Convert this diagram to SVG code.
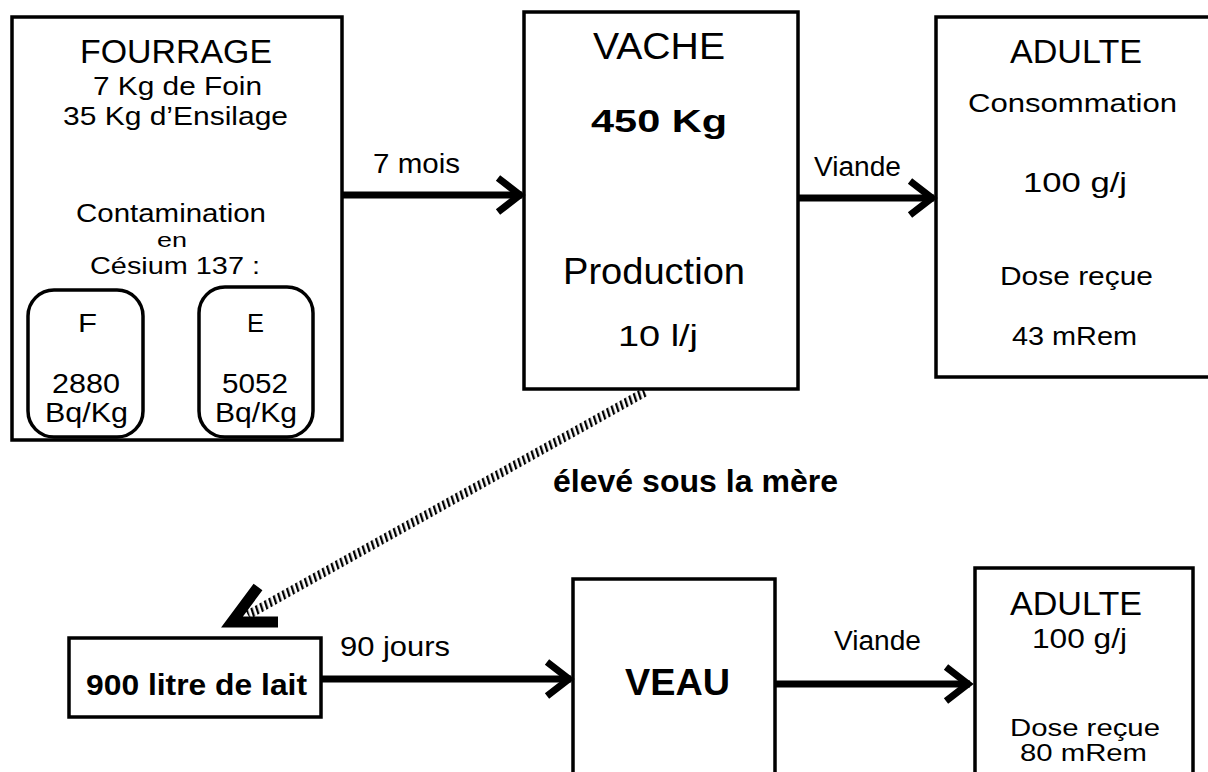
<svg xmlns="http://www.w3.org/2000/svg" width="1208" height="772" viewBox="0 0 1208 772">
<style>
.box{fill:none;stroke:#000;stroke-width:3.5}
.t{font-family:"Liberation Sans",Arial,sans-serif;fill:#000}
.b{font-weight:bold}
.shaft{stroke:#000;stroke-width:7;fill:none}
</style>
<defs>
<marker id="chev" markerUnits="userSpaceOnUse" markerWidth="44" markerHeight="48" viewBox="-34 -24 44 48" refX="0" refY="0" orient="auto">
<path d="M-24,-17 L-2,0 L-24,17" fill="none" stroke="#000" stroke-width="7"/>
</marker>
<pattern id="hatch" patternUnits="userSpaceOnUse" width="5" height="20" patternTransform="rotate(-18)">
<rect x="0" y="0" width="2.3" height="20" fill="#000"/>
</pattern>
</defs>
<rect width="1208" height="772" fill="#fff"/>

<g id="fourrage">
<rect class="box" x="12" y="17" width="330" height="423"/>
<text class="t" x="80" y="63" font-size="34" textLength="192" lengthAdjust="spacingAndGlyphs">FOURRAGE</text>
<text class="t" x="93" y="95" font-size="25" textLength="169" lengthAdjust="spacingAndGlyphs">7 Kg de Foin</text>
<text class="t" x="63" y="125" font-size="25" textLength="225" lengthAdjust="spacingAndGlyphs">35 Kg d’Ensilage</text>
<text class="t" x="76" y="222" font-size="25" textLength="190" lengthAdjust="spacingAndGlyphs">Contamination</text>
<text class="t" x="157" y="247" font-size="20" textLength="30" lengthAdjust="spacingAndGlyphs">en</text>
<text class="t" x="90" y="274" font-size="24" textLength="170" lengthAdjust="spacingAndGlyphs">Césium 137 :</text>
</g>
<g id="foin">
<rect class="box" x="28" y="290" width="115" height="147" rx="26"/>
<text class="t" x="78" y="332" font-size="26" textLength="19" lengthAdjust="spacingAndGlyphs">F</text>
<text class="t" x="52" y="393" font-size="27" textLength="68" lengthAdjust="spacingAndGlyphs">2880</text>
<text class="t" x="45" y="422" font-size="27" textLength="83" lengthAdjust="spacingAndGlyphs">Bq/Kg</text>
</g>
<g id="ensilage">
<rect class="box" x="199" y="287" width="114" height="150" rx="26"/>
<text class="t" x="247" y="332" font-size="26" textLength="17" lengthAdjust="spacingAndGlyphs">E</text>
<text class="t" x="222" y="393" font-size="27" textLength="66" lengthAdjust="spacingAndGlyphs">5052</text>
<text class="t" x="215" y="422" font-size="27" textLength="82" lengthAdjust="spacingAndGlyphs">Bq/Kg</text>
</g>

<g id="vache">
<rect class="box" x="524" y="12" width="274" height="377"/>
<text class="t" x="593" y="59" font-size="36" textLength="132" lengthAdjust="spacingAndGlyphs">VACHE</text>
<text class="t b" x="591" y="132" font-size="32" textLength="136" lengthAdjust="spacingAndGlyphs">450  Kg</text>
<text class="t" x="563" y="284" font-size="36" textLength="182" lengthAdjust="spacingAndGlyphs">Production</text>
<text class="t" x="618" y="346" font-size="30" textLength="80" lengthAdjust="spacingAndGlyphs">10 l/j</text>
</g>

<g id="adulte1">
<rect class="box" x="936" y="17" width="290" height="360"/>
<text class="t" x="1010" y="63" font-size="34" textLength="132" lengthAdjust="spacingAndGlyphs">ADULTE</text>
<text class="t" x="968" y="112" font-size="26" textLength="209" lengthAdjust="spacingAndGlyphs">Consommation</text>
<text class="t" x="1023" y="192" font-size="27" textLength="104" lengthAdjust="spacingAndGlyphs">100  g/j</text>
<text class="t" x="1000" y="285" font-size="26" textLength="153" lengthAdjust="spacingAndGlyphs">Dose reçue</text>
<text class="t" x="1012" y="345" font-size="26" textLength="125" lengthAdjust="spacingAndGlyphs">43 mRem</text>
</g>

<g id="lait">
<rect class="box" x="69" y="638" width="252" height="79"/>
<text class="t b" x="86" y="695" font-size="30" textLength="221" lengthAdjust="spacingAndGlyphs">900 litre de lait</text>
</g>

<g id="veau">
<rect class="box" x="573" y="579" width="202" height="210"/>
<text class="t b" x="625" y="695" font-size="36" textLength="105" lengthAdjust="spacingAndGlyphs">VEAU</text>
</g>

<g id="adulte2">
<rect class="box" x="975" y="568" width="218" height="220"/>
<text class="t" x="1010" y="615" font-size="34" textLength="132" lengthAdjust="spacingAndGlyphs">ADULTE</text>
<text class="t" x="1032" y="648" font-size="27" textLength="95" lengthAdjust="spacingAndGlyphs">100 g/j</text>
<text class="t" x="1010" y="736" font-size="23" textLength="150" lengthAdjust="spacingAndGlyphs">Dose reçue</text>
<text class="t" x="1020" y="761" font-size="23" textLength="127" lengthAdjust="spacingAndGlyphs">80 mRem</text>
</g>

<g id="connectors">
<line class="shaft" x1="342" y1="195" x2="522" y2="195" marker-end="url(#chev)"/>
<text class="t" x="373" y="173" font-size="28" textLength="87" lengthAdjust="spacingAndGlyphs">7 mois</text>
<line class="shaft" x1="798" y1="198" x2="934" y2="198" marker-end="url(#chev)"/>
<text class="t" x="814" y="176" font-size="27" textLength="87" lengthAdjust="spacingAndGlyphs">Viande</text>
<line x1="645" y1="392" x2="248" y2="615" stroke="url(#hatch)" stroke-width="9"/>
<path d="M258,587 L232,622 L278,622" fill="none" stroke="#000" stroke-width="11" stroke-linejoin="miter"/>
<text class="t b" x="553" y="492" font-size="31" textLength="285" lengthAdjust="spacingAndGlyphs">élevé sous la mère</text>
<line class="shaft" x1="321" y1="679" x2="571" y2="679" marker-end="url(#chev)"/>
<text class="t" x="340" y="656" font-size="28" textLength="110" lengthAdjust="spacingAndGlyphs">90 jours</text>
<line class="shaft" x1="775" y1="684" x2="970" y2="684" marker-end="url(#chev)"/>
<text class="t" x="834" y="650" font-size="27" textLength="87" lengthAdjust="spacingAndGlyphs">Viande</text>
</g>
</svg>
